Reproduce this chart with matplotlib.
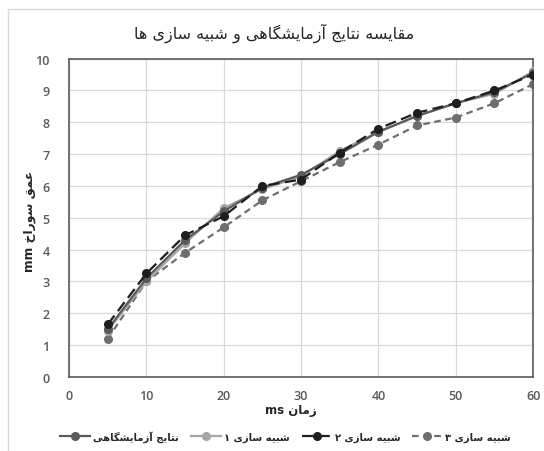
import numpy as np
import matplotlib
matplotlib.use('Agg')
import matplotlib.pyplot as plt
from matplotlib.patches import Rectangle

# data
t_ms = [5, 10, 15, 20, 25, 30, 35, 40, 45, 50, 55, 60]
lab = [1.5, 3.1, 4.3, 5.2, 5.95, 6.35, 7.0, 7.7, 8.2, 8.6, 8.95, 9.55]
sim1 = [1.45, 3.0, 4.2, 5.3, 5.9, 6.3, 7.1, 7.7, 8.2, 8.6, 8.9, 9.6]
sim2 = [1.65, 3.25, 4.45, 5.05, 6.0, 6.2, 7.05, 7.8, 8.3, 8.6, 9.0, 9.5]
sim3 = [1.2, 3.0, 3.9, 4.7, 5.55, 6.15, 6.75, 7.3, 7.9, 8.15, 8.6, 9.2]
x_ticks = [0, 10, 20, 30, 40, 50, 60]
y_ticks = list(range(0, 11))

title_txt = 'مقایسه نتایج آزمایشگاهی و شبیه سازی ها'
xlabel_txt = 'زمان ms'
ylabel_txt = 'عمق سوراخ mm'
names = ['نتایج آزمایشگاهی', 'شبیه سازی ۱', 'شبیه سازی ۲', 'شبیه سازی ۳']

# matplotlib does no arabic shaping -> pick presentation forms by hand
# (isolated, final, initial, medial)
FORMS = {
    'ا': ('\uFE8D', '\uFE8E', None, None),
    'آ': ('\uFE81', '\uFE82', None, None),
    'ب': ('\uFE8F', '\uFE90', '\uFE91', '\uFE92'),
    'ت': ('\uFE95', '\uFE96', '\uFE97', '\uFE98'),
    'ج': ('\uFE9D', '\uFE9E', '\uFE9F', '\uFEA0'),
    'خ': ('\uFEA5', '\uFEA6', '\uFEA7', '\uFEA8'),
    'ر': ('\uFEAD', '\uFEAE', None, None),
    'ز': ('\uFEAF', '\uFEB0', None, None),
    'س': ('\uFEB1', '\uFEB2', '\uFEB3', '\uFEB4'),
    'ش': ('\uFEB5', '\uFEB6', '\uFEB7', '\uFEB8'),
    'ع': ('\uFEC9', '\uFECA', '\uFECB', '\uFECC'),
    'ق': ('\uFED5', '\uFED6', '\uFED7', '\uFED8'),
    'گ': ('\uFB92', '\uFB93', '\uFB94', '\uFB95'),
    'م': ('\uFEE1', '\uFEE2', '\uFEE3', '\uFEE4'),
    'ن': ('\uFEE5', '\uFEE6', '\uFEE7', '\uFEE8'),
    'ه': ('\uFEE9', '\uFEEA', '\uFEEB', '\uFEEC'),
    'و': ('\uFEED', '\uFEEE', None, None),
    'ی': ('\uFBFC', '\uFBFD', '\uFBFE', '\uFBFF'),
}
DUAL = {k for k, v in FORMS.items() if v[2] is not None}

def shape_word(w):
    out = []
    for i, ch in enumerate(w):
        if ch not in FORMS:
            out.append(ch); continue
        prev = w[i-1] if i > 0 else None
        nxt = w[i+1] if i + 1 < len(w) else None
        jp = prev in DUAL
        jn = ch in DUAL and nxt in FORMS
        f = FORMS[ch]
        out.append(f[3] if jp and jn else f[1] if jp else f[2] if jn else f[0])
    return ''.join(out)[::-1]

def rtl(text):
    words = [shape_word(w) if any(c in FORMS for c in w) else w for w in text.split(' ')]
    return ' '.join(words[::-1])

AR = ['DejaVu Sans']
TICK = '#595959'

fig = plt.figure(figsize=(5.44, 4.52), dpi=100)
fig.patches.append(Rectangle((0.015, -0.01), 1.0, 0.988, transform=fig.transFigure,
                             fill=False, ec='#d9d9d9', lw=1.0))
ax = fig.add_axes([0.127, 0.164, 0.853, 0.704])

ax.plot(t_ms, lab, color='#5a5a5a', lw=1.6, marker='o', ms=5.5, label=rtl(names[0]), zorder=4)
ax.plot(t_ms, sim1, color='#a5a5a5', lw=1.6, marker='o', ms=5.5, label=rtl(names[1]), zorder=3)
ax.plot(t_ms, sim2, color='#1e1e1e', lw=1.6, ls=(0, (5, 2.5)), marker='o', ms=5.5,
        label=rtl(names[2]), zorder=5)
ax.plot(t_ms, sim3, color='#6e6e6e', lw=1.6, ls=(0, (3, 2)), marker='o', ms=5.5,
        label=rtl(names[3]), zorder=2)

ax.set_xlim(0, 60); ax.set_ylim(0, 10)
ax.set_xticks(x_ticks); ax.set_yticks(y_ticks)
ax.grid(True, color='#d9d9d9', lw=0.9)
ax.set_axisbelow(True)
ax.tick_params(length=0, labelsize=9, colors=TICK)
ax.tick_params(axis='y', pad=14)
ax.tick_params(axis='x', pad=9)
for lbl in ax.get_xticklabels() + ax.get_yticklabels():
    lbl.set_fontfamily(['Open Sans', 'DejaVu Sans'])
    lbl.set_fontweight('semibold')
for s in ax.spines.values():
    s.set_color('#5a5a5a'); s.set_linewidth(1.2)

fig.text(0.503, 0.927, rtl(title_txt), ha='center', va='center', fontsize=11.5,
         family=AR, color='#262626')
fig.text(0.535, 0.092, rtl(xlabel_txt), ha='center', va='center', fontsize=8.5,
         family=AR, color='#262626', fontweight='bold')
fig.text(0.055, 0.51, rtl(ylabel_txt), ha='center', va='center', rotation=90,
         fontsize=8.8, family=AR, color='#262626', fontweight='bold')

leg = fig.legend(loc='center', bbox_to_anchor=(0.525, 0.033), ncol=4, frameon=False,
                 handlelength=3.0, columnspacing=1.2, handletextpad=0.3,
                 prop={'family': AR, 'size': 7.2, 'weight': 'bold'})
for txt in leg.get_texts():
    txt.set_color('#262626')

fig.savefig('out.png', dpi=100)
